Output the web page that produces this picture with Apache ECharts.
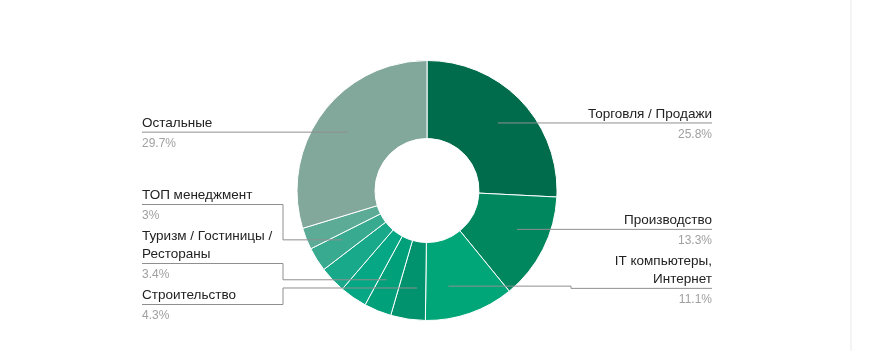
<!DOCTYPE html>
<html>
<head>
<meta charset="utf-8">
<script src="https://cdn.jsdelivr.net/npm/echarts@6/dist/echarts.min.js"></script>
<style>
html,body{margin:0;padding:0;background:#ffffff;}
#chart{width:869px;height:351px;}
</style>
</head>
<body>
<div id="chart"></div>
<script>
// ---- data ----
const categories = [
  'Торговля / Продажи',
  'Производство',
  'IT компьютеры, Интернет',
  'Строительство',
  'Туризм / Гостиницы / Рестораны',
  'Маркетинг / Реклама',
  'Транспорт / Логистика',
  'ТОП менеджмент',
  'Бухгалтерия / Финансы',
  'Остальные'
];
const shares = [25.8, 13.3, 11.1, 4.3, 3.4, 3.4, 3.3, 3.0, 2.7, 29.7];
const showLabel = [true, true, true, true, true, false, false, true, false, true];
const colors = ['#006c4b', '#00875e', '#00a678', '#00936d', '#00a07a', '#05a784', '#17a98a', '#38aa8f', '#5bab97', '#82a89b'];

// ---- geometry / style ----
const CX = 427, CY = 190.5, R_IN = 52, R_OUT = 130, R_PT = 98;
const EDGE = 285, BEND = 144, NAME_LH = 18, PCT_LH = 23, WRAP = 145;
const NAME_FS = 13.5, PCT_FS = 12;
const FONT_FAMILY = '"Liberation Sans", Arial, sans-serif';

const ctx = document.createElement('canvas').getContext('2d');
ctx.font = NAME_FS + 'px ' + FONT_FAMILY;
function wrap(s) {
  const words = s.split(' ');
  const lines = [];
  let cur = '';
  for (const w of words) {
    const t = cur ? cur + ' ' + w : w;
    if (cur && ctx.measureText(t).width > WRAP) { lines.push(cur); cur = w; }
    else cur = t;
  }
  if (cur) lines.push(cur);
  return lines;
}

const total = shares.reduce((a, b) => a + b, 0);
const info = [];
let acc = 0;
shares.forEach((v, i) => {
  const a0 = acc / total * 360;
  acc += v;
  const a1 = acc / total * 360;
  const mid = (a0 + a1) / 2;
  const rad = mid * Math.PI / 180;
  info.push({
    i, a0, a1, mid, right: mid < 180,
    lines: wrap(categories[i]),
    target: CY - R_PT * Math.cos(rad),
    shown: showLabel[i]
  });
});

function resolve(items) {
  items.sort((a, b) => a.target - b.target);
  let off = 0;
  items.forEach((it, k) => {
    it.above = it.lines.length * NAME_LH;
    it.below = PCT_LH;
    if (k > 0) off += items[k - 1].below + it.above;
    it.off = off;
  });
  const blocks = [];
  items.forEach(it => {
    blocks.push({ sum: it.target - it.off, n: 1, items: [it] });
    while (blocks.length > 1) {
      const b = blocks[blocks.length - 1], a = blocks[blocks.length - 2];
      if (a.sum / a.n > b.sum / b.n) {
        blocks.pop();
        a.sum += b.sum; a.n += b.n; a.items = a.items.concat(b.items);
      } else break;
    }
  });
  blocks.forEach(b => { const z = b.sum / b.n; b.items.forEach(it => { it.y = z + it.off; }); });
  const TOP = CY - R_OUT - 7, BOT = CY + R_OUT + 7;
  for (let k = items.length - 1; k >= 0; k--) {
    const lim = k === items.length - 1 ? BOT - items[k].below
      : items[k + 1].y - items[k + 1].above - items[k].below;
    items[k].y = Math.min(items[k].y, lim);
  }
  for (let k = 0; k < items.length; k++) {
    const lim = k === 0 ? TOP + items[k].above
      : items[k - 1].y + items[k - 1].below + items[k].above;
    items[k].y = Math.max(items[k].y, lim);
  }
}
resolve(info.filter(d => d.shown && d.right));
resolve(info.filter(d => d.shown && !d.right));

info.forEach(d => {
  if (!d.shown) return;
  const sgn = d.right ? 1 : -1;
  const edgeX = CX + sgn * EDGE, bendX = CX + sgn * BEND;
  // anchor point slides along the arc towards the label's height, kept in the slice's middle third
  const span = d.a1 - d.a0;
  const lo = d.a0 + span / 3, hi = d.a1 - span / 3;
  const c = Math.max(-1, Math.min(1, (CY - d.y) / R_PT));
  let t = Math.acos(c) * 180 / Math.PI;
  if (!d.right) t = 360 - t;
  t = Math.max(lo, Math.min(hi, t));
  const r = t * Math.PI / 180;
  const px = CX + R_PT * Math.sin(r), py = CY - R_PT * Math.cos(r);
  d.points = [[px, py], [bendX, py], [bendX, d.y], [edgeX, d.y]];
  d.x = edgeX;
  d.align = d.right ? 'right' : 'left';
  d.top = d.y - d.above;
});

const chart = echarts.init(document.getElementById('chart'), null, { renderer: 'canvas' });
chart.setOption({
  animation: false,
  backgroundColor: '#ffffff',
  graphic: [{
    type: 'rect', silent: true,
    shape: { x: 850, y: 0, width: 2, height: 351 },
    style: { fill: '#f4f4f4' }
  }],
  series: [{
    // slices
    type: 'pie',
    z: 2,
    center: [CX, CY],
    radius: [R_IN, R_OUT],
    startAngle: 90,
    clockwise: true,
    silent: true,
    emphasis: { disabled: true },
    itemStyle: { borderColor: '#ffffff', borderWidth: 1 },
    label: { show: false },
    labelLine: { show: false },
    data: categories.map((n, i) => ({ name: n, value: shares[i], itemStyle: { color: colors[i] } }))
  }, {
    // labels + connector lines drawn above the slices
    type: 'pie',
    z: 5,
    center: [CX, CY],
    radius: [R_IN, R_OUT],
    startAngle: 90,
    clockwise: true,
    silent: true,
    avoidLabelOverlap: false,
    emphasis: { disabled: true },
    itemStyle: { color: 'rgba(0,0,0,0)', borderWidth: 0 },
    label: {
      show: true,
      position: 'outside',
      formatter: p => info[p.dataIndex].lines.map(l => '{n|' + l + '}').join('\n') + '\n{p|' + p.value + '%}',
      rich: {
        n: { fontSize: NAME_FS, lineHeight: NAME_LH, color: '#222222', fontFamily: FONT_FAMILY },
        p: { fontSize: PCT_FS, lineHeight: PCT_LH, color: '#a0a0a0', fontFamily: FONT_FAMILY }
      }
    },
    labelLine: { show: true, lineStyle: { color: '#8f8f8f', width: 1 } },
    labelLayout: p => {
      const d = info[p.dataIndex];
      if (!d || !d.shown) return {};
      return { x: d.x, y: d.top, align: d.align, verticalAlign: 'top', labelLinePoints: d.points };
    },
    data: categories.map((n, i) => ({
      name: n,
      value: shares[i],
      label: { show: showLabel[i] },
      labelLine: { show: showLabel[i] }
    }))
  }]
});
</script>
</body>
</html>
